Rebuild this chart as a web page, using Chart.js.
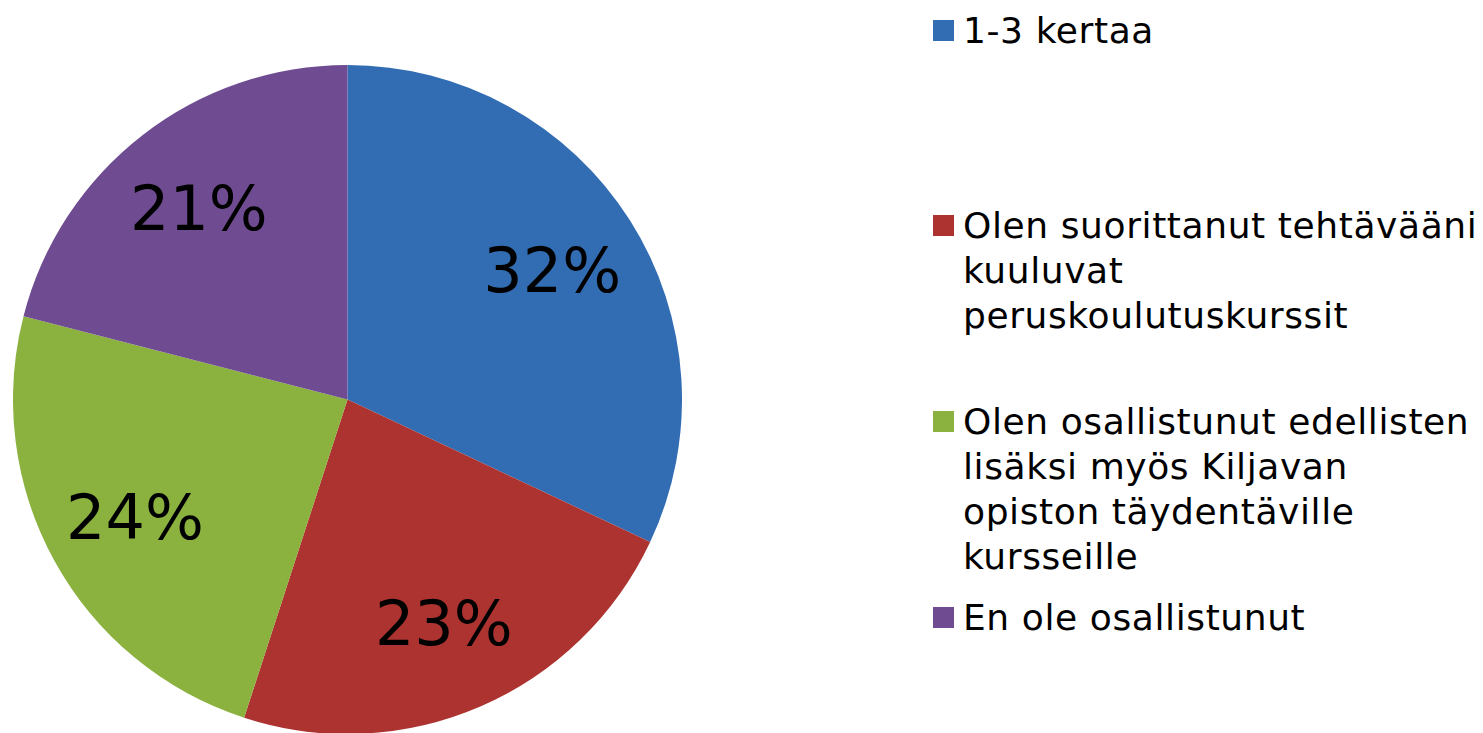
<!DOCTYPE html>
<html>
<head>
<meta charset="utf-8">
<script src="https://cdn.jsdelivr.net/npm/chart.js@4/dist/chart.umd.min.js"></script>
<style>
  html, body { margin: 0; padding: 0; background: #fff; width: 1483px; height: 733px; overflow: hidden; }
  #wrap { position: absolute; left: 13px; top: 65px; width: 669px; height: 669px; }
  #legend { position: absolute; left: 933px; top: 0; font-family: "DejaVu Sans", Verdana, sans-serif; font-size: 36px; line-height: 45px; letter-spacing: 0.6px; color: #000; }
  .item { position: absolute; left: 0; display: flex; align-items: flex-start; white-space: nowrap; }
  .sw { width: 21px; height: 21px; margin-top: 12px; margin-right: 9px; flex: none; }
</style>
</head>
<body>
<div id="wrap"><canvas id="c"></canvas></div>
<div id="legend"></div>
<script>
// ---- data ----
const categories = [
  ['1-3 kertaa'],
  ['Olen suorittanut tehtävääni', 'kuuluvat', 'peruskoulutuskurssit'],
  ['Olen osallistunut edellisten', 'lisäksi myös Kiljavan', 'opiston täydentäville', 'kursseille'],
  ['En ole osallistunut']
];
const values = [32, 23, 24, 21];
const percentLabels = ['32%', '23%', '24%', '21%'];
const colors = ['#326DB3', '#AC3330', '#8BB13F', '#6F4C92'];

// ---- layout (not data) ----
const legendTops = [8, 203, 399, 595];

// HTML legend built from categories/colors
const leg = document.getElementById('legend');
categories.forEach((lines, i) => {
  const it = document.createElement('div');
  it.className = 'item';
  it.style.top = legendTops[i] + 'px';
  const sw = document.createElement('div');
  sw.className = 'sw';
  sw.style.background = colors[i];
  const tx = document.createElement('div');
  lines.forEach(l => { const d = document.createElement('div'); d.textContent = l; tx.appendChild(d); });
  it.appendChild(sw); it.appendChild(tx);
  leg.appendChild(it);
});

const labelPlugin = {
  id: 'pctLabels',
  afterDatasetsDraw(chart) {
    const ctx = chart.ctx;
    const meta = chart.getDatasetMeta(0);
    const size = 62;
    ctx.save();
    ctx.font = size + 'px "DejaVu Sans", Verdana, sans-serif';
    ctx.fillStyle = '#000';
    ctx.textAlign = 'center';
    ctx.textBaseline = 'alphabetic';
    meta.data.forEach((arc, i) => {
      const p = arc.getProps(['x', 'y', 'startAngle', 'endAngle', 'outerRadius'], true);
      const a = (p.startAngle + p.endAngle) / 2;
      const r = p.outerRadius * 0.725;
      const x = p.x + Math.cos(a) * r;
      const y = p.y + Math.sin(a) * r;
      ctx.fillText(percentLabels[i], x, y + size * 0.3645);
    });
    ctx.restore();
  }
};

new Chart(document.getElementById('c'), {
  type: 'pie',
  data: {
    labels: categories.map(c => c.join(' ')),
    datasets: [{ data: values, backgroundColor: colors, borderWidth: 0 }]
  },
  options: {
    responsive: true,
    maintainAspectRatio: false,
    animation: false,
    layout: { padding: 0 },
    plugins: { legend: { display: false }, tooltip: { enabled: false } }
  },
  plugins: [labelPlugin]
});
</script>
</body>
</html>
